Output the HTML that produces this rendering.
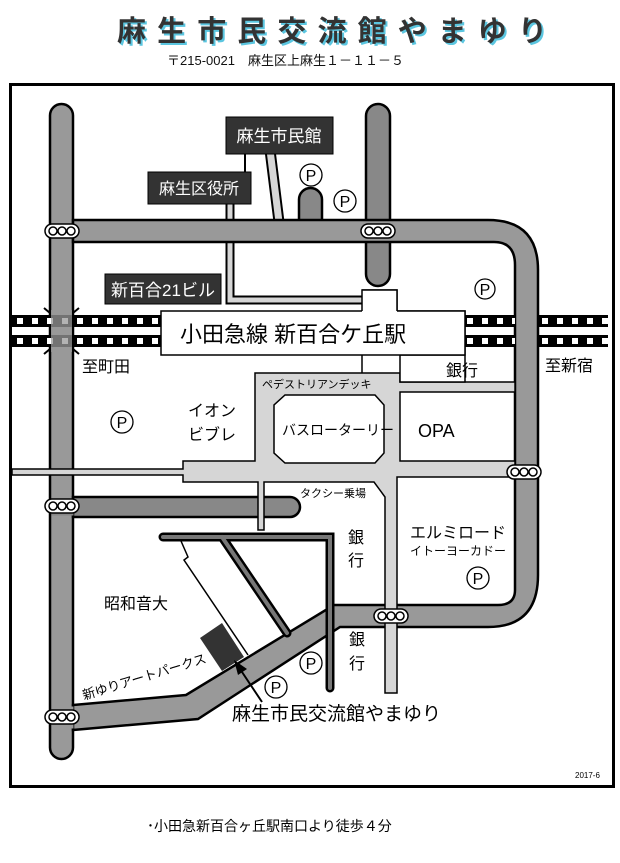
<!DOCTYPE html>
<html><head><meta charset="utf-8"><style>
body{margin:0;background:#fff;width:620px;height:863px;overflow:hidden}
svg{display:block}
text{font-family:"Liberation Sans","Noto Sans CJK JP",sans-serif}
</style></head><body>
<svg width="620" height="863" viewBox="0 0 620 863" xmlns="http://www.w3.org/2000/svg">
<defs>
<pattern id="rail" x="12" y="315" width="15" height="20" patternUnits="userSpaceOnUse">
<rect x="0" y="0" width="15" height="20" fill="#000"/>
<rect x="5" y="3" width="6" height="6" fill="#fff"/>
</pattern>
</defs>
<!-- title -->
<g font-weight="bold" font-size="29">
<text x="119" y="43" fill="#5bc6e0" textLength="430" lengthAdjust="spacing">麻生市民交流館やまゆり</text>
<text x="117" y="41" fill="#333" textLength="430" lengthAdjust="spacing">麻生市民交流館やまゆり</text>
</g>
<text x="167" y="65" font-size="13" fill="#111">〒215-0021　麻生区上麻生１－１１－５</text>
<!-- frame -->
<rect x="10.5" y="84.5" width="603" height="702" fill="#fff" stroke="#000" stroke-width="3"/>

<!-- light connectors to labels -->
<path d="M230 200 V300 H362" fill="none" stroke="#000" stroke-width="9"/>
<path d="M230 200 V300 H362" fill="none" stroke="#d6d6d6" stroke-width="5"/>
<path d="M270 150 L279 222" fill="none" stroke="#000" stroke-width="11"/>
<path d="M270 150 L279 222" fill="none" stroke="#d6d6d6" stroke-width="7"/>
<line x1="245" y1="150" x2="245" y2="202" stroke="#000" stroke-width="2"/>

<!-- roads -->
<g fill="#999" stroke="#000" stroke-width="2.5">
<rect x="50" y="104" width="23" height="655" rx="11.5"/>
<rect x="366" y="104" width="24" height="182" rx="12" fill="#888"/>
<rect x="299" y="188" width="23" height="45" rx="11.5" fill="#888"/>
<path d="M73 220 H488 Q538 220 538 270 V575 Q538 627 488 627 H340 L198 719 L73 730 V705 L186 695 L334 605 H498 Q515 605 515 590 V265 Q515 242 494 242 H73 Z"/>
<path d="M73 497 H290 A10 10 0 0 1 290 517 H73 Z" fill="#888"/>
</g>
<rect x="51.5" y="221.5" width="20" height="20" fill="#999"/>
<rect x="367" y="221.5" width="22" height="19" fill="#999"/>
<rect x="51.5" y="498.5" width="22" height="17" fill="#888"/>
<rect x="51.5" y="706.5" width="22" height="22" fill="#999"/>

<!-- railway -->
<rect x="12" y="315" width="150" height="12" fill="url(#rail)"/>
<rect x="12" y="335" width="150" height="12" fill="url(#rail)"/>
<rect x="465" y="315" width="50" height="12" fill="url(#rail)"/>
<rect x="465" y="335" width="50" height="12" fill="url(#rail)"/>
<rect x="538" y="315" width="70" height="12" fill="url(#rail)"/>
<rect x="538" y="335" width="70" height="12" fill="url(#rail)"/>
<rect x="51" y="310" width="21" height="42" fill="#999" opacity="0.75"/>
<path d="M44 308 l6 5 M79 308 l-6 5 M44 354 l6 -5 M79 354 l-6 -5" stroke="#000" stroke-width="2"/>

<!-- pedestrian deck -->
<path d="M12 469 H183 V461 H255 V373 H400 V382 H515 V392 H400 V461 H515 V477 H397 V693 H385 V497 L374 482 H264 V530 H258 V482 H183 V475 H12 Z" fill="#d6d6d6" stroke="#000" stroke-width="1.5"/>
<path d="M285 395 H375 L384 405 V453 L375 463 H285 L274 453 V405 Z" fill="#fff" stroke="#000" stroke-width="1.5"/>
<!-- station -->
<path d="M362 290 H397 V311 H465 V355 H400 V382 H465 V355" fill="#fff" stroke="#000" stroke-width="1.5"/>
<rect x="161" y="311" width="304" height="44" fill="#fff" stroke="#000" stroke-width="1.5"/>
<rect x="362" y="290" width="35" height="22" fill="#fff"/>
<path d="M362 311 V290 H397 V311" fill="none" stroke="#000" stroke-width="1.5"/>
<line x1="362" y1="355" x2="362" y2="373" stroke="#000" stroke-width="1.5"/>
<text x="180" y="342" font-size="22">小田急線  新百合ケ丘駅</text>

<!-- dark narrow roads -->
<path d="M163 537 H330 V688 M222 537 L287 633" fill="none" stroke="#000" stroke-width="9" stroke-linecap="round"/>
<path d="M163 537 H330 V688 M222 537 L287 633" fill="none" stroke="#777" stroke-width="4" stroke-linecap="round"/>
<path d="M181 541 L188 557 L184 560 L248 655" fill="none" stroke="#000" stroke-width="1.5"/>
<polygon points="200,638 222,623 244,657 222,671" fill="#333"/>

<!-- traffic lights -->
<g fill="#fff" stroke="#000" stroke-width="1.5">
<g transform="translate(62,231)"><rect x="-17" y="-7" width="34" height="14" rx="7"/><circle cx="-9" r="4"/><circle r="4"/><circle cx="9" r="4"/></g>
<g transform="translate(378,231)"><rect x="-17" y="-7" width="34" height="14" rx="7"/><circle cx="-9" r="4"/><circle r="4"/><circle cx="9" r="4"/></g>
<g transform="translate(62,506)"><rect x="-17" y="-7" width="34" height="14" rx="7"/><circle cx="-9" r="4"/><circle r="4"/><circle cx="9" r="4"/></g>
<g transform="translate(524,472)"><rect x="-17" y="-7" width="34" height="14" rx="7"/><circle cx="-9" r="4"/><circle r="4"/><circle cx="9" r="4"/></g>
<g transform="translate(391,616)"><rect x="-17" y="-7" width="34" height="14" rx="7"/><circle cx="-9" r="4"/><circle r="4"/><circle cx="9" r="4"/></g>
<g transform="translate(62,717)"><rect x="-17" y="-7" width="34" height="14" rx="7"/><circle cx="-9" r="4"/><circle r="4"/><circle cx="9" r="4"/></g>
</g>

<!-- parking -->
<g fill="#fff" stroke="#000" stroke-width="1.3">
<circle cx="311" cy="175" r="11"/><circle cx="345" cy="201" r="11"/><circle cx="485" cy="289" r="10"/>
<circle cx="122" cy="422" r="11"/><circle cx="478" cy="578" r="11"/><circle cx="311" cy="663" r="11"/><circle cx="276" cy="687" r="11"/>
</g>
<g font-size="16" text-anchor="middle" fill="#000">
<text x="311" y="181">P</text><text x="345" y="207">P</text><text x="485" y="295">P</text>
<text x="122" y="428">P</text><text x="478" y="584">P</text><text x="311" y="669">P</text><text x="276" y="693">P</text>
</g>

<!-- black labels -->
<rect x="226" y="117" width="107" height="37" fill="#333" stroke="#000"/>
<text x="279" y="142" font-size="17" fill="#fff" text-anchor="middle">麻生市民館</text>
<rect x="148" y="172" width="103" height="32" fill="#333" stroke="#000"/>
<text x="199" y="194" font-size="16" fill="#fff" text-anchor="middle">麻生区役所</text>
<rect x="105" y="274" width="116" height="30" fill="#333" stroke="#000"/>
<text x="163" y="296" font-size="17" fill="#fff" text-anchor="middle">新百合21ビル</text>

<!-- text labels -->
<g fill="#000">
<text x="82" y="372" font-size="16">至町田</text>
<text x="545" y="371" font-size="16">至新宿</text>
<text x="446" y="376" font-size="16">銀行</text>
<text x="262" y="388" font-size="11">ペデストリアンデッキ</text>
<text x="188" y="416" font-size="16">イオン</text>
<text x="188" y="440" font-size="16">ビブレ</text>
<text x="282" y="435" font-size="14">バスローターリー</text>
<text x="418" y="437" font-size="18">OPA</text>
<text x="300" y="497" font-size="11">タクシー乗場</text>
<text x="348" y="543" font-size="16">銀</text><text x="348" y="566" font-size="16">行</text>
<text x="410" y="538" font-size="16">エルミロード</text>
<text x="410" y="555" font-size="12">イトーヨーカドー</text>
<text x="104" y="609" font-size="16">昭和音大</text>
<text x="349" y="645" font-size="16">銀</text><text x="349" y="669" font-size="16">行</text>
<text transform="translate(84,700) rotate(-17)" font-size="13">新ゆりアートパークス</text>
<text x="232" y="720" font-size="19">麻生市民交流館やまゆり</text>
<text x="575" y="778" font-size="8">2017-6</text>
<text x="147" y="831" font-size="14">･小田急新百合ヶ丘駅南口より徒歩４分</text>
</g>
<!-- arrow -->
<line x1="262" y1="702" x2="242" y2="672" stroke="#000" stroke-width="2"/>
<polygon points="234,660 247,669 238,675" fill="#000"/>
</svg>
</body></html>
